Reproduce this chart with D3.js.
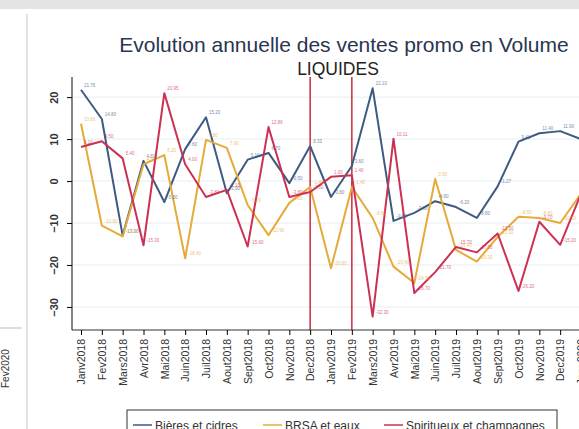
<!DOCTYPE html>
<meta charset='utf-8'>
<style>
    body { margin: 0; background: #fff; }
    text { font-family: 'Liberation Sans', Arial, sans-serif; }
    .series { fill: none; stroke-width: 2; stroke-linejoin: round; }
    .grid line { stroke: #e6eef4; }
</style>

<svg width="579" height="429"></svg>
<script src="https://d3js.org/d3.v7.min.js"></script>

<script>

var months = ['Janv2018', 'Fev2018', 'Mars2018', 'Avr2018', 'Mai2018', 'Juin2018', 'Juil2018', 'Aout2018',
    'Sept2018', 'Oct2018', 'Nov2018', 'Dec2018', 'Janv2019', 'Fev2019', 'Mars2019', 'Avr2019', 'Mai2019',
    'Juin2019', 'Juil2019', 'Aout2019', 'Sept2019', 'Oct2019', 'Nov2019', 'Dec2019', 'Janv2020'];

var bieres = [21.76, 14.8, -13.0, 4.81, -5.0, 7.6, 15.2, -2.9, 5.1, 6.7, -0.5, 8.33, -3.8, 3.6, 22.1,
    -9.5, -7.6, -4.8, -6.2, -8.8, -1.27, 9.41, 11.4, 11.9, 10.0];
var brsa = [13.66, -10.6, -13.2, 4.0, 6.2, -18.4, 9.8, 7.9, -5.7, -12.9, -5.2, -1.4, -20.8, -1.4, -8.8,
    -20.4, -24.3, 0.5, -16.4, -19.2, -13.3, -8.5, -8.8, -10.0, -3.0];
var spiritueux = [8.1, 9.5, 5.4, -15.3, 20.95, 4.0, -3.8, -2.1, -15.6, 12.86, -3.8, -2.6, 1.0, 1.4, -32.3,
    10.11, -26.7, -21.7, -15.7, -17.0, -12.5, -26.2, -9.7, -15.2, -3.0];

var seriesNames = ['Bières et cidres', 'BRSA et eaux', 'Spiritueux et champagnes'];
var seriesColors = ['#3d5b82', '#e6aa38', '#cc3152'];
var yTicks = [20, 10, 0, -10, -20, -30];
var markers = ['Dec2018', 'Fev2019'];

var svg = d3.select('svg');

// photo edges: grey strip on top, left panel fragment
svg.append('rect').attr('x', 0).attr('y', 0).attr('width', 579).attr('height', 9).attr('fill', '#e4e4e4');
svg.append('line').attr('x1', 27).attr('x2', 27).attr('y1', 14).attr('y2', 429)
    .attr('stroke', '#e2e2e2').attr('stroke-width', 2);
svg.append('text').attr('transform', 'translate(9,388) rotate(-90)')
    .attr('font-size', 10).attr('fill', '#333').text('Fev2020');
svg.append('line').attr('x1', 0).attr('x2', 22).attr('y1', 328).attr('y2', 328).attr('stroke', '#bbb');

var x = d3.scaleLinear().domain([0, months.length - 1]).range([81, 581]);
var y = d3.scaleLinear().domain([-35.5, 24.8]).range([330, 77]);

// grid
svg.append('g').attr('class', 'grid')
   .selectAll('line')
   .data(yTicks)
   .enter().append('line')
    .attr('x1', 73).attr('x2', 579)
    .attr('y1', function(d) { return y(d); })
    .attr('y2', function(d) { return y(d); });

// event lines
svg.selectAll('.marker')
   .data(markers)
   .enter().append('line')
    .attr('class', 'marker')
    .attr('x1', function(d) { return x(months.indexOf(d)); })
    .attr('x2', function(d) { return x(months.indexOf(d)); })
    .attr('y1', 77).attr('y2', 330)
    .attr('stroke', '#d0374a').attr('stroke-width', 1.6);

// axes
var yAxis = svg.append('g')
    .attr('transform', 'translate(72,0)')
    .call(d3.axisLeft(y).tickValues(yTicks).tickSize(5).tickSizeOuter(0));
yAxis.selectAll('text')
    .attr('transform', 'translate(-14,0) rotate(-90)')
    .attr('x', 0).attr('y', 0).attr('dy', '0')
    .attr('text-anchor', 'middle')
    .attr('font-size', 11).attr('font-weight', 'bold').attr('fill', '#333');
yAxis.select('.domain').attr('d', 'M0,77V330').attr('stroke', '#333').attr('stroke-width', 1.2);

var xAxis = svg.append('g')
    .attr('transform', 'translate(0,330)')
    .call(d3.axisBottom(x).tickValues(d3.range(months.length))
        .tickFormat(function(i) { return months[i]; }).tickSize(5).tickSizeOuter(0));
xAxis.selectAll('text')
    .attr('transform', 'rotate(-90)')
    .attr('x', -9).attr('y', 0).attr('dy', '0.35em')
    .attr('text-anchor', 'end')
    .attr('font-size', 10.5).attr('fill', '#333');
xAxis.select('.domain').attr('d', 'M72,0H579').attr('stroke', '#333').attr('stroke-width', 1.2);

// lines and labels
var line = d3.line()
    .x(function(d, i) { return x(i); })
    .y(function(d) { return y(d); });

var allSeries = [bieres, brsa, spiritueux];

allSeries.forEach(function(vals, k) {
    svg.append('path')
        .datum(vals)
        .attr('class', 'series')
        .attr('stroke', seriesColors[k])
        .attr('d', line);
});

allSeries.forEach(function(vals, k) {
    svg.append('g')
       .selectAll('text')
       .data(vals)
       .enter().append('text')
        .attr('x', function(d, i) { return x(i) + 3; })
        .attr('y', function(d, i) { return y(d) - 3; })
        .attr('font-size', 4.5)
        .attr('fill', seriesColors[k])
        .attr('opacity', 0.7)
        .text(function(d) { return d.toFixed(2); });
});

// titles
svg.append('text').attr('x', 344).attr('y', 52).attr('text-anchor', 'middle')
    .attr('font-size', 21).attr('fill', '#2a3550')
    .text('Evolution annuelle des ventes promo en Volume');
svg.append('text').attr('x', 338).attr('y', 75).attr('text-anchor', 'middle')
    .attr('font-size', 17.5).attr('fill', '#222')
    .text('LIQUIDES');

// legend
var legend = svg.append('g');
legend.append('rect').attr('x', 127).attr('y', 410).attr('width', 430).attr('height', 30)
    .attr('fill', '#fff').attr('stroke', '#333').attr('stroke-width', 1);
var legendX = [133, 263, 384];
seriesNames.forEach(function(name, k) {
    legend.append('line')
        .attr('x1', legendX[k]).attr('x2', legendX[k] + 19)
        .attr('y1', 425).attr('y2', 425)
        .attr('stroke', seriesColors[k]).attr('stroke-width', 1.5);
    legend.append('text')
        .attr('x', legendX[k] + 22).attr('y', 430)
        .attr('font-size', 12).attr('fill', '#333')
        .text(name);
});

</script>
